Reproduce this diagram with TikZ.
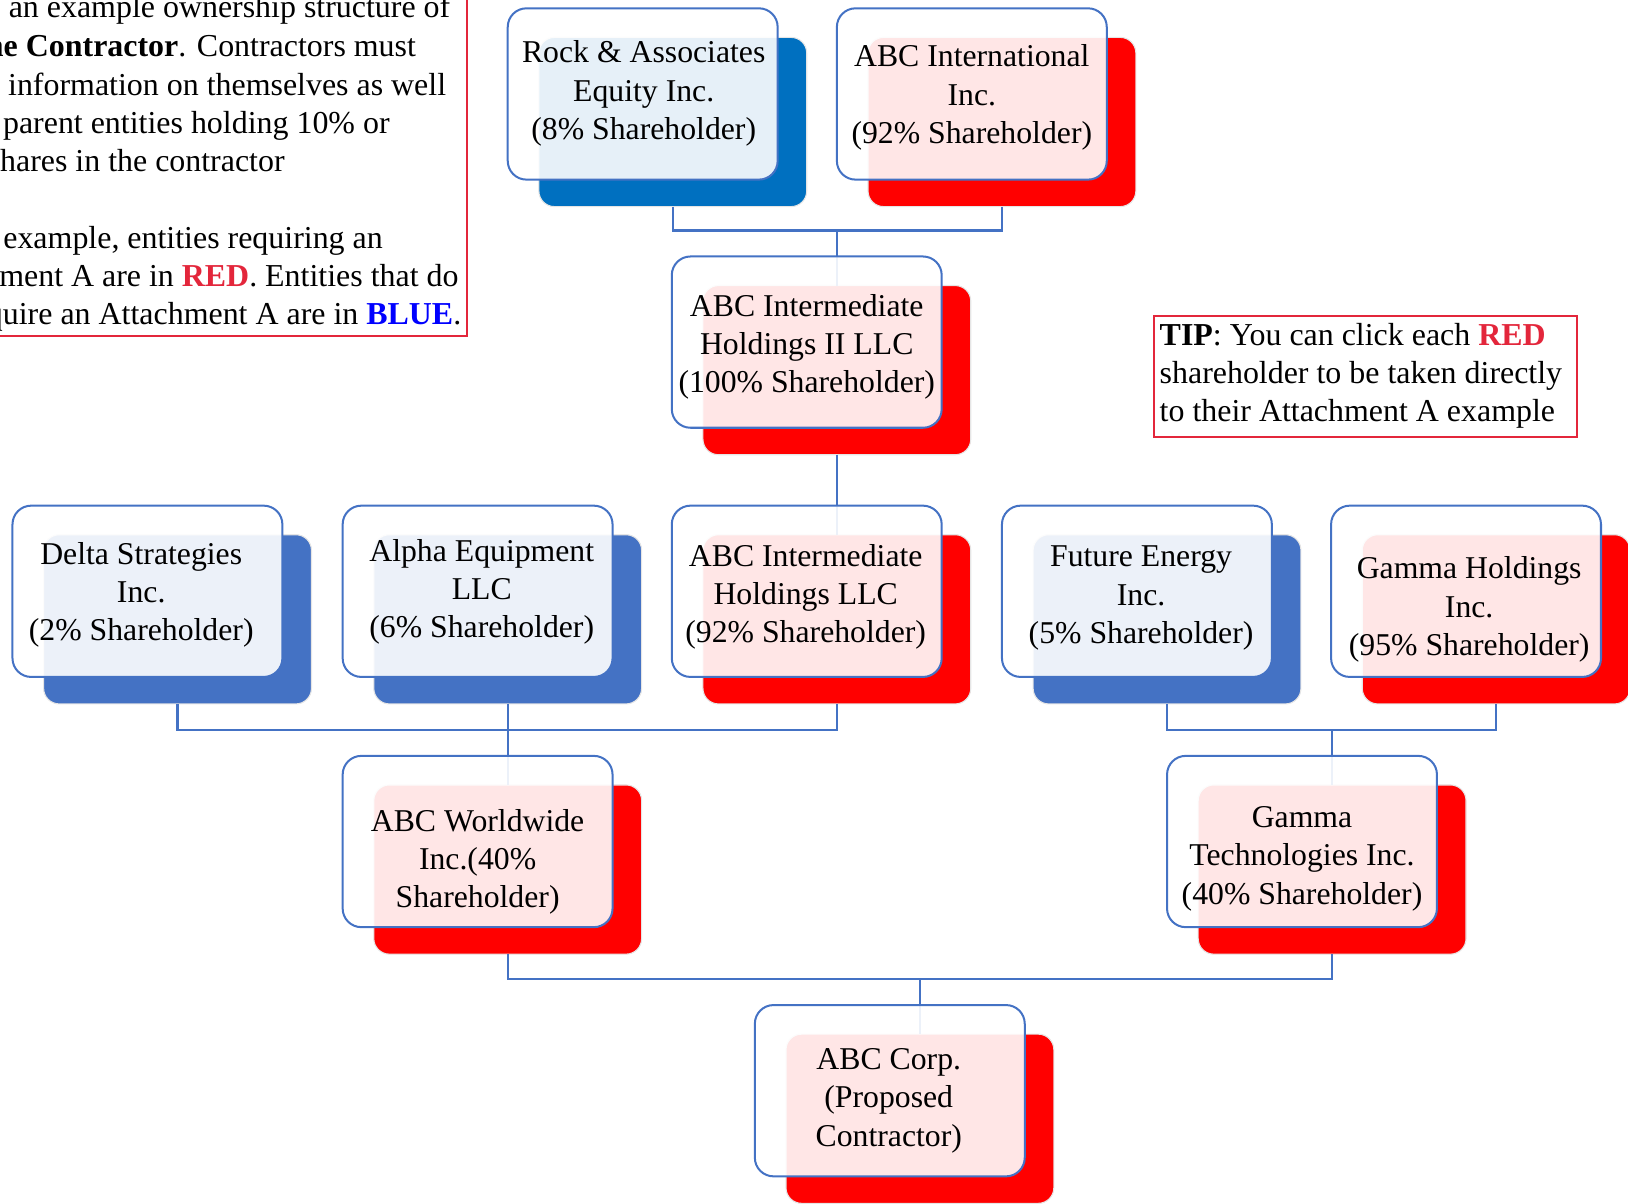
\documentclass[tikz,border=0pt]{standalone}
\usepackage{fontspec}
\setmainfont{Liberation Serif}
\definecolor{frontblue}{HTML}{4472C4}
\definecolor{darkblue}{HTML}{0070C0}
\definecolor{midblue}{HTML}{4472C4}
\definecolor{pureRed}{HTML}{FF0000}
\definecolor{crim}{HTML}{E3263B}
\definecolor{pureBlue}{HTML}{0000FF}
\begin{document}
\begin{tikzpicture}[x=0.02cm,y=-0.02cm,
  front/.style={draw=frontblue, line width=1.1pt, fill=white, fill opacity=0.9, rounded corners=0.36cm, minimum width=5.2cm, minimum height=3.3cm, inner sep=0pt, outer sep=0pt},
  back/.style={draw=black!10, line width=0.6pt, rounded corners=0.3cm, minimum width=5.16cm, minimum height=3.26cm, inner sep=0pt, outer sep=0pt},
  redback/.style={back, fill=pureRed},
  blueback/.style={back, fill=midblue},
  lbl/.style={font=\fontsize{17.4}{21}\selectfont, align=center, inner sep=0pt},
  conn/.style={draw=frontblue, line width=1.2pt},
  note/.style={font=\fontsize{17.5}{21}\selectfont, inner sep=0pt},
  framebox/.style={draw=crim, line width=1.1pt}
]
\useasboundingbox (0,0) rectangle (1568,1159);
\begin{scope}
\clip (0,0) rectangle (1568,1159);

% back boxes
\node[blueback, fill=darkblue] (rockB) at (648,117.5) {};
\node[redback] (intlB) at (965,117.5) {};
\node[redback] (abc2B) at (806,356.5) {};
\node[blueback] (deltaB) at (171,596.5) {};
\node[blueback] (alphaB) at (489,596.5) {};
\node[redback] (abc1B) at (806,596.5) {};
\node[blueback] (futureB) at (1124,596.5) {};
\node[redback] (gammaHB) at (1441,596.5) {};
\node[redback] (worldB) at (489,837.5) {};
\node[redback] (gammaTB) at (1283,837.5) {};
\node[redback] (corpB) at (886,1077.5) {};

% junctions
\coordinate (j1) at (806,222);
\coordinate (j2) at (489,703);
\coordinate (j3) at (1283,703);
\coordinate (j4) at (886,943);

% connectors
\draw[conn] (rockB.south) |- (j1);
\draw[conn] (intlB.south) |- (j1);
\draw[conn] (j1) -- (abc2B.north);
\draw[conn] (abc2B.south) -- (abc1B.north);
\draw[conn] (deltaB.south) |- (j2);
\draw[conn] (alphaB.south) -- (j2);
\draw[conn] (abc1B.south) |- (j2);
\draw[conn] (j2) -- (worldB.north);
\draw[conn] (futureB.south) |- (j3);
\draw[conn] (gammaHB.south) |- (j3);
\draw[conn] (j3) -- (gammaTB.north);
\draw[conn] (worldB.south) |- (j4);
\draw[conn] (gammaTB.south) |- (j4);
\draw[conn] (j4) -- (corpB.north);

% front boxes
\node[front] (rock) at (619,90.5) {};
\node[front] (intl) at (936,90.5) {};
\node[front] (abc2) at (777,329.5) {};
\node[front] (delta) at (142,569.5) {};
\node[front] (alpha) at (460,569.5) {};
\node[front] (abc1) at (777,569.5) {};
\node[front] (future) at (1095,569.5) {};
\node[front] (gammaH) at (1412,569.5) {};
\node[front] (world) at (460,810.5) {};
\node[front] (gammaT) at (1254,810.5) {};
\node[front] (corp) at (857,1050.5) {};

% labels
\node[lbl] (rockT) at (620,90) {Rock \& Associates\\Equity Inc.\\(8\% Shareholder)};
\node[lbl] (intlT) at (936,94) {ABC International\\Inc.\\(92\% Shareholder)};
\node[lbl] (abc2T) at (777,334) {ABC Intermediate\\Holdings II LLC\\(100\% Shareholder)};
\node[lbl] (deltaT) at (136,573) {Delta Strategies\\Inc.\\(2\% Shareholder)};
\node[lbl] (alphaT) at (464,570) {Alpha Equipment\\LLC\\(6\% Shareholder)};
\node[lbl] (abc1T) at (776,575) {ABC Intermediate\\Holdings LLC\\(92\% Shareholder)};
\node[lbl] (futureT) at (1099,576) {Future Energy\\Inc.\\(5\% Shareholder)};
\node[lbl] (gammaHT) at (1415,587) {Gamma Holdings\\Inc.\\(95\% Shareholder)};
\node[lbl] (worldT) at (460,830) {ABC Worldwide\\Inc.(40\%\\Shareholder)};
\node[lbl] (gammaTT) at (1254,827) {Gamma\\Technologies Inc.\\(40\% Shareholder)};
\node[lbl] (corpT) at (856,1060) {ABC Corp.\\(Proposed\\Contractor)};

% left note box
\draw[framebox] (-100,-100) rectangle (450,323.6);
\node[note, anchor=base east] (n1) at (434,16.7) {an example ownership structure of};
\node[note, anchor=base east] (n2) at (401,54.6) {\textbf{he Contractor}. Contractors must};
\node[note, anchor=base east] (n3) at (430,91.5) {t information on themselves as well};
\node[note, anchor=base east] (n4) at (375.6,128.5) {parent entities holding 10\% or};
\node[note, anchor=base east] (n5) at (274.5,164.7) {hares in the contractor};
\node[note, anchor=base east] (n6) at (369,239) {example, entities requiring an};
\node[note, anchor=base east] (n7) at (442,276) {ment A are in \textcolor{crim}{\textbf{RED}}. Entities that do};
\node[note, anchor=base east] (n8) at (444.6,313) {quire an Attachment A are in \textcolor{pureBlue}{\textbf{BLUE}}.};

% tip box
\draw[framebox] (1111.4,304.3) rectangle (1518.5,420.6);
\node[note, anchor=base west] (t1) at (1116.6,333) {\textbf{TIP}: You can click each \textcolor{crim}{\textbf{RED}}};
\node[note, anchor=base west] (t2) at (1116.6,369.2) {shareholder to be taken directly};
\node[note, anchor=base west] (t3) at (1116.6,406) {to their Attachment A example};
\end{scope}
\end{tikzpicture}
\end{document}
